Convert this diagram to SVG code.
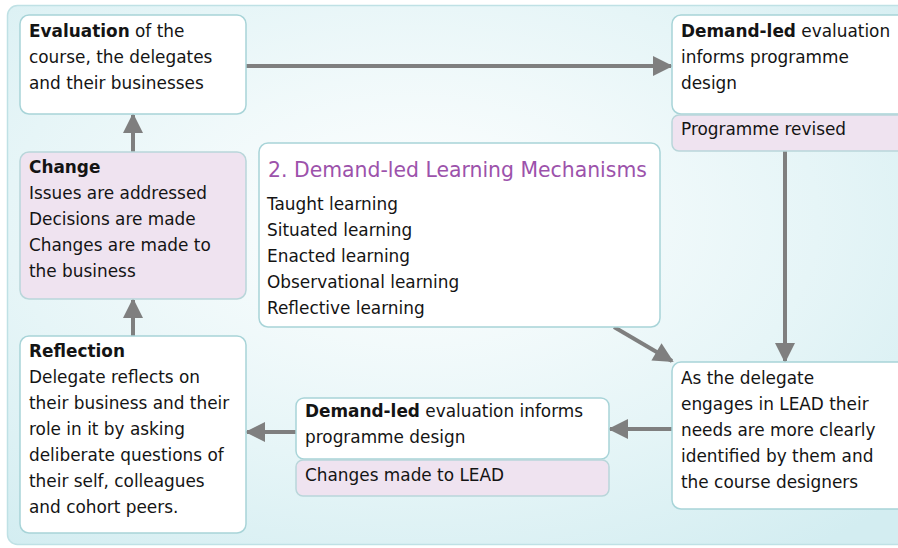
<svg xmlns="http://www.w3.org/2000/svg" width="898" height="548" viewBox="0 0 898 548">
<defs>
<radialGradient id="bg" cx="0.45" cy="0.4" r="0.75">
<stop offset="0" stop-color="#ffffff"/>
<stop offset="0.6" stop-color="#e6f5f7"/>
<stop offset="1" stop-color="#d3edf1"/>
</radialGradient>
<marker id="ah" viewBox="0 0 10 10" refX="9" refY="5" markerWidth="6" markerHeight="5" markerUnits="strokeWidth" orient="auto">
<path d="M0,0 L10,5 L0,10 z" fill="#7f7f7f"/>
</marker>
<style>
.box{fill:#ffffff;stroke:#a8d4d8;stroke-width:1.5}
.pink{fill:#efe3f0;stroke:#b9d6da;stroke-width:1.5}
text{font-family:"DejaVu Sans","Liberation Sans",sans-serif;font-size:16.9px;fill:#141414}
.b{font-weight:bold}
.title{font-size:20.4px;fill:#9c52ab}
.conn{stroke:#7f7f7f;stroke-width:4;fill:none;marker-end:url(#ah)}
</style>
</defs>
<rect x="0" y="0" width="898" height="548" fill="#ffffff"/>
<rect x="7.5" y="5.5" width="900" height="539" rx="10" fill="url(#bg)" stroke="#bfe1e5" stroke-width="1.5"/>

<g id="connectors">
<line class="conn" x1="246" y1="66" x2="671" y2="66"/>
<line class="conn" x1="133" y1="152" x2="133" y2="115"/>
<line class="conn" x1="133" y1="336" x2="133" y2="300"/>
<line class="conn" x1="785" y1="151" x2="785" y2="361"/>
<line class="conn" x1="614" y1="327" x2="672" y2="361"/>
<line class="conn" x1="672" y1="429" x2="610" y2="429"/>
<line class="conn" x1="296" y1="432" x2="247" y2="432"/>
</g>

<g id="evaluation">
<rect class="box" x="20" y="15" width="226" height="99" rx="9"/>
<text x="29" y="37"><tspan class="b">Evaluation</tspan> of the</text>
<text x="29" y="63">course, the delegates</text>
<text x="29" y="89">and their businesses</text>
</g>

<g id="demand-top">
<rect class="box" x="672" y="15" width="236" height="99" rx="9"/>
<text x="681" y="37"><tspan class="b">Demand-led</tspan> evaluation</text>
<text x="681" y="63">informs programme</text>
<text x="681" y="89">design</text>
</g>

<g id="programme-revised">
<rect class="pink" x="672" y="115" width="236" height="36" rx="7"/>
<text x="681" y="135">Programme revised</text>
</g>

<g id="change">
<rect class="pink" x="20" y="152" width="226" height="147" rx="9"/>
<text x="29" y="173" class="b">Change</text>
<text x="29" y="199">Issues are addressed</text>
<text x="29" y="225">Decisions are made</text>
<text x="29" y="251">Changes are made to</text>
<text x="29" y="277">the business</text>
</g>

<g id="mechanisms">
<rect class="box" x="259" y="143" width="401" height="184" rx="9"/>
<text x="268" y="177" class="title">2. Demand-led Learning Mechanisms</text>
<text x="267" y="210">Taught learning</text>
<text x="267" y="236">Situated learning</text>
<text x="267" y="262">Enacted learning</text>
<text x="267" y="288">Observational learning</text>
<text x="267" y="314">Reflective learning</text>
</g>

<g id="reflection">
<rect class="box" x="20" y="336" width="226" height="197" rx="9"/>
<text x="29" y="357" class="b">Reflection</text>
<text x="29" y="383">Delegate reflects on</text>
<text x="29" y="409">their business and their</text>
<text x="29" y="435">role in it by asking</text>
<text x="29" y="461">deliberate questions of</text>
<text x="29" y="487">their self, colleagues</text>
<text x="29" y="513">and cohort peers.</text>
</g>

<g id="demand-bottom">
<rect class="box" x="296" y="398" width="313" height="61" rx="8"/>
<text x="305" y="417"><tspan class="b">Demand-led</tspan> evaluation informs</text>
<text x="305" y="443">programme design</text>
</g>

<g id="changes-lead">
<rect class="pink" x="296" y="460" width="313" height="36" rx="7"/>
<text x="305" y="481">Changes made to LEAD</text>
</g>

<g id="engages">
<rect class="box" x="672" y="362" width="236" height="147" rx="9"/>
<text x="681" y="384">As the delegate</text>
<text x="681" y="410">engages in LEAD their</text>
<text x="681" y="436">needs are more clearly</text>
<text x="681" y="462">identified by them and</text>
<text x="681" y="488">the course designers</text>
</g>
</svg>
